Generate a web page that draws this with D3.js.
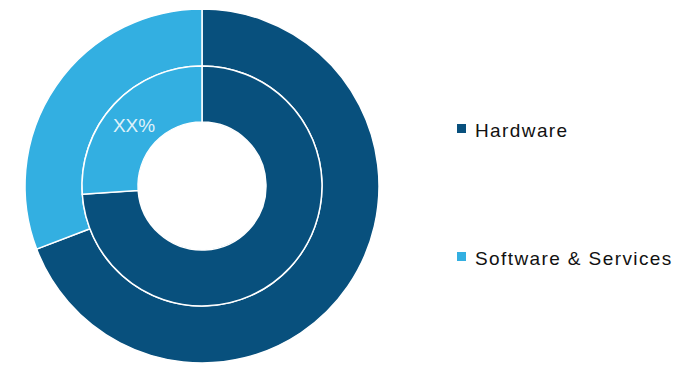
<!DOCTYPE html>
<html>
<head>
<meta charset="utf-8">
<script src="https://cdn.jsdelivr.net/npm/d3@7"></script>
<style>
    body { margin: 0; background: #fff; }
    svg { display: block; font-family: "Liberation Sans", Arial, sans-serif; }
</style>
</head>
<body>
<div id="chart"></div>
<script>
const categories = ["Hardware", "Software & Services"];
const colors = ["#08507d", "#33afe1"];
const outerValues = [69.2, 30.8];
const innerValues = [73.9, 26.1];
const innerLabels = [null, "XX%"];

const width = 700;
const height = 374;
const cx = 202, cy = 186;

const svg = d3.select("#chart")
    .append("svg")
    .attr("width", width)
    .attr("height", height);

const g = svg.append("g").attr("transform", `translate(${cx},${cy})`);

const pie = d3.pie().sort(null).value(d => d);

const rings = [
    { values: outerValues, inner: 120, outer: 177 },
    { values: innerValues, inner: 64, outer: 120 }
];

rings.forEach(r => {
    const arc = d3.arc().innerRadius(r.inner).outerRadius(r.outer);
    g.append("g").selectAll("path")
        .data(pie(r.values))
        .join("path")
        .attr("d", arc)
        .attr("fill", (d, i) => colors[i])
        .attr("stroke", "#fff")
        .attr("stroke-width", 1.5);
});

// label on inner ring (placed in the upper part of the slice)
g.append("g").selectAll("text")
    .data(pie(innerValues).filter(d => innerLabels[d.index]))
    .join("text")
    .attr("x", -68)
    .attr("y", -54)
    .attr("text-anchor", "middle")
    .attr("font-size", "19px")
    .attr("fill", "#fff")
    .attr("fill-opacity", 0.85)
    .text(d => innerLabels[d.index]);

// legend
const legendY = [124, 252];
const legend = svg.append("g")
    .selectAll("g")
    .data(categories)
    .join("g")
    .attr("transform", (d, i) => `translate(457,${legendY[i]})`);

legend.append("rect")
    .attr("width", 9)
    .attr("height", 9)
    .attr("fill", (d, i) => colors[i]);

legend.append("text")
    .attr("x", 18)
    .attr("y", 13)
    .attr("font-size", "19px")
    .attr("letter-spacing", "1.4px")
    .attr("fill", "#111")
    .text(d => d);
</script>
</body>
</html>
